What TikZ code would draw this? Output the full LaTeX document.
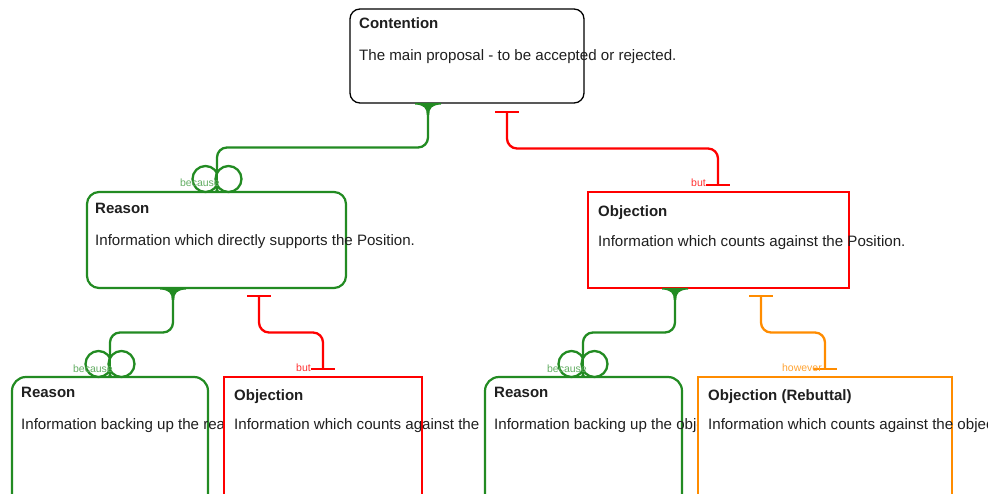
\documentclass[tikz,border=0pt]{standalone}
\usepackage{fontspec}
\setmainfont{Liberation Sans}
\usetikzlibrary{calc}
\definecolor{gc}{RGB}{34,139,34}
\definecolor{oc}{RGB}{255,140,0}
\begin{document}
\begin{tikzpicture}[x=1pt,y=-1pt,
 box/.style={draw, fill=white, anchor=north west, inner sep=0pt, outer sep=0pt, line width=2.2pt},
 rbox/.style={box, draw=gc, rounded corners=14pt},
 obox/.style={box, draw=red},
 ttl/.style={anchor=base west, inner sep=0pt, font=\fontsize{15}{18}\selectfont\bfseries, text=black!88},
 bdy/.style={anchor=base west, inner sep=0pt, font=\fontsize{15.1}{18}\selectfont, text=black!88},
 lnk/.style={line width=2.3pt, rounded corners=10pt},
 lbl/.style={anchor=base east, inner sep=0pt, font=\fontsize{10.5}{12}\selectfont},
 flare/.pic={\fill[gc] (-13,0) -- (-13,1.5) .. controls (-4,2) and (-1.2,5) .. (-1.2,12) -- (1.2,12) .. controls (1.2,5) and (4,2) .. (13,1.5) -- (13,0) -- cycle;},
 rings/.pic={\draw[gc, line width=2.3pt, fill=white] (-11.5,-13) circle (13pt); \draw[gc, line width=2.3pt, fill=white] (11.5,-13) circle (13pt); \draw[gc, line width=2.3pt] (0,-26) -- (0,0); \fill[gc] (-5,0) .. controls (-1,-1) .. (-1,-6) -- (1,-6) .. controls (1,-1) .. (5,0) -- cycle;},
 tbar/.pic={\draw[line width=2.3pt] (-12,0) -- (12,0);}
]
\useasboundingbox (0,0) rectangle (988,494);
\clip (0,0) rectangle (988,494);

% Contention
\node[box, draw=black, line width=1.3pt, rounded corners=10pt, minimum width=234pt, minimum height=94pt] (con) at (350,9) {};
\node[ttl] (conT) at ($(con.north west)+(9,19.5)$) {Contention};
\node[bdy] (conB) at ($(con.north west)+(9,51.5)$) {The main proposal - to be accepted or rejected.};

% Level 2
\node[rbox, rounded corners=12pt, minimum width=259pt, minimum height=96pt] (rs) at (87,192) {};
\node[ttl] (rsT) at ($(rs.north west)+(8,22)$) {Reason};
\node[bdy] (rsB) at ($(rs.north west)+(8,54)$) {Information which directly supports the Position.};

\node[obox, minimum width=261pt, minimum height=96pt] (ob) at (588,192) {};
\node[ttl] (obT) at ($(ob.north west)+(10,25)$) {Objection};
\node[bdy] (obB) at ($(ob.north west)+(10,55)$) {Information which counts against the Position.};

% Level 3
\node[rbox, minimum width=196pt, minimum height=140pt] (ra) at (12,377) {};
\node[ttl] (raT) at ($(ra.north west)+(9,20)$) {Reason};
\node[bdy] (raB) at ($(ra.north west)+(9,52)$) {Information backing up the reason.};

\node[obox, minimum width=198pt, minimum height=140pt] (oa) at (224,377) {};
\node[ttl] (oaT) at ($(oa.north west)+(10,23)$) {Objection};
\begin{scope}
\clip (oa.north west) rectangle (479,470);
\node[bdy] (oaB) at ($(oa.north west)+(10,52)$) {Information which counts against the reason.};
\end{scope}

\node[rbox, minimum width=197pt, minimum height=140pt] (rb) at (485,377) {};
\node[ttl] (rbT) at ($(rb.north west)+(9,20)$) {Reason};
\node[bdy] (rbB) at ($(rb.north west)+(9,52)$) {Information backing up the objection.};

\node[box, draw=oc, minimum width=254pt, minimum height=140pt] (re) at (698,377) {};
\node[ttl] (reT) at ($(re.north west)+(10,23)$) {Objection (Rebuttal)};
\node[bdy] (reB) at ($(re.north west)+(10,52)$) {Information which counts against the objection.};

% connector end points
\coordinate (g1s) at ($(con.south west)+(78,0)$);
\coordinate (g1e) at ($(rs.north west)+(130,0)$);
\coordinate (r1s) at ($(con.south west)+(157,9)$);
\coordinate (r1e) at ($(ob.north west)+(130,-7)$);
\coordinate (g2s) at ($(rs.south west)+(86,0)$);
\coordinate (g2e) at ($(ra.north west)+(98,0)$);
\coordinate (r2s) at ($(rs.south west)+(172,8)$);
\coordinate (r2e) at ($(oa.north west)+(99,-8)$);
\coordinate (g3s) at ($(ob.south west)+(87,0)$);
\coordinate (g3e) at ($(rb.north west)+(98,0)$);
\coordinate (o3s) at ($(ob.south west)+(173,8)$);
\coordinate (o3e) at ($(re.north west)+(127,-8)$);

% green "because" links
\foreach \s/\e in {g1s/g1e, g2s/g2e, g3s/g3e}{
  \draw[lnk, gc] (\s) |- ($(\s)!.5!(\e)$) -| ($(\e)+(0,-24)$);
  \pic at (\s) {flare};
  \pic at (\e) {rings};
}
% red / orange "but" links
\draw[lnk, red] (r1s) |- ($(r1s)!.5!(r1e)$) -| (r1e);
\pic[red] at (r1s) {tbar};
\pic[red] at (r1e) {tbar};
\draw[lnk, red] (r2s) |- ($(r2s)!.5!(r2e)$) -| (r2e);
\pic[red] at (r2s) {tbar};
\pic[red] at (r2e) {tbar};
\draw[lnk, oc] (o3s) |- ($(o3s)!.5!(o3e)$) -| (o3e);
\pic[oc] at (o3s) {tbar};
\pic[oc] at (o3e) {tbar};

% labels
\node[lbl, text=gc!70!white] (l1) at ($(g1e)+(3,-5)$) {because};
\node[lbl, text=red!80!white] (l2) at ($(r1e)+(-12,2)$) {but};
\node[lbl, text=gc!70!white] (l3) at ($(g2e)+(3,-5)$) {because};
\node[lbl, text=red!80!white] (l4) at ($(r2e)+(-12,2)$) {but};
\node[lbl, text=gc!70!white] (l5) at ($(g3e)+(4,-5)$) {because};
\node[lbl, text=oc!80!white] (l6) at ($(o3e)+(-3,2)$) {however};
\end{tikzpicture}
\end{document}
